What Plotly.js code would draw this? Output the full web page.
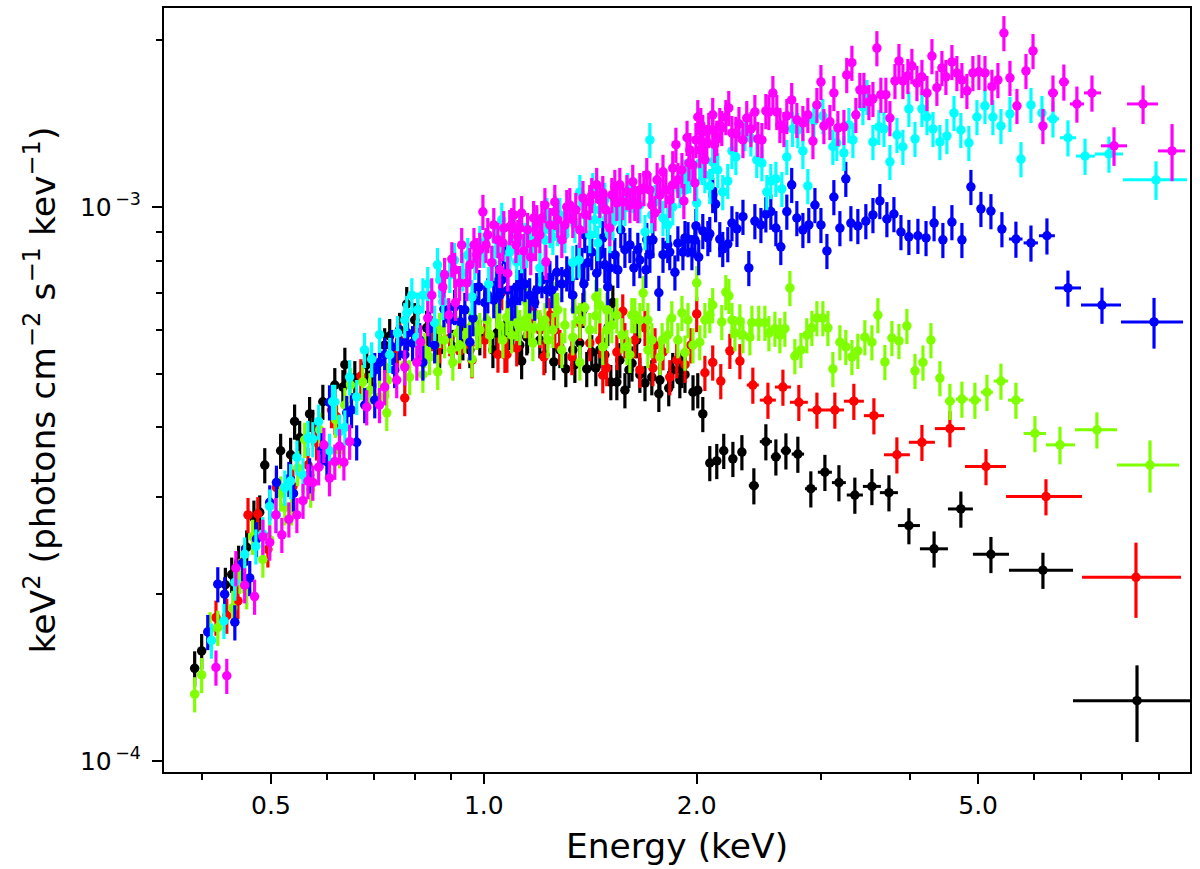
<!DOCTYPE html>
<html>
<head>
<meta charset="utf-8">
<script src="https://cdn.plot.ly/plotly-3.0.1.min.js"></script>
<style>html,body{margin:0;padding:0;background:#fff}#chart{width:1200px;height:869px}</style>
</head>
<body>
<div id="chart"></div>
<script>
// Energy in keV; flux in units of 1e-3 keV^2 photons cm^-2 s^-1 keV^-1
const bulkFracErr = 0.073;

const blackE = [.39,.399,.431,.44,.45,.462,.473,.482,.49,.516,.533,.54,.549,.567,.573,.592,.632,.636,.657,.683,.694,.736,.778,.806,.83,.858,.904,.934,.987,1.03,1.043,1.071,1.088,1.099,1.131,1.15,1.153,1.2,1.256,1.306,1.336,1.367,1.381,1.398,1.421,1.44,1.483,1.497,1.512,1.522,1.542,1.583,1.604,1.62,1.645,1.69,1.728,1.768,1.826,1.85,1.893,1.906,1.976,2.007,2.04,2.087,2.135,2.184,2.25,2.317];
const blackF = [.147,.158,.208,.217,.228,.243,.275,.281,.342,.363,.357,.41,.383,.423,.401,.445,.473,.519,.491,.519,.498,.585,.668,.652,.605,.58,.559,.57,.582,.552,.592,.592,.595,.592,.527,.582,.587,.575,.525,.51,.552,.568,.652,.51,.547,.512,.541,.605,.483,.672,.483,.467,.508,.522,.575,.481,.493,.46,.471,.508,.487,.508,.463,.467,.423,.345,.348,.363,.351,.361];
const blackDenseE = [.6155,.724,.76,.7985,.866,.9555,1.124,1.22,1.281,1.345,1.459,1.557,1.662,1.774,1.925];
const blackDenseF = [.477,.563,.6,.625,.552,.552,.563,.541,.552,.519,.552,.529,.498,.487,.498];
const blackTailE = [2.409,2.505,2.588,2.674,2.78,2.9,3.036,3.178,3.347,3.538,3.74,3.991,4.332,4.727,5.213,6.175,8.388];
const blackTailF = [.314,.377,.354,.363,.358,.31,.332,.318,.302,.313,.305,.266,.2415,.285,.236,.221,.1285];
const blackTailLo = [2.37,2.456,2.546,2.63,2.725,2.845,2.967,3.106,3.26,3.436,3.631,3.851,4.137,4.532,4.916,5.528,6.81];
const blackTailHi = [2.448,2.555,2.63,2.718,2.837,2.958,3.106,3.25,3.436,3.643,3.851,4.137,4.532,4.916,5.528,6.81,10.0];
const blackTailErr = [.075,.075,.075,.075,.075,.075,.075,.075,.075,.075,.075,.075,.075,.075,.075,.075,.158];

const redE = [.418,.433,.449,.464,.479,.495,.509,.537,.564,.58,.609,.616,.619,.67,.755,.773,.804,.844,.895,.924,.962,1.047,1.06,1.071,1.078,1.113,1.15,1.173,1.2,1.216,1.24,1.281,1.332,1.367,1.412,1.473,1.492,1.542,1.572,1.583,1.69,1.734,1.792,1.832,1.874,1.962,2.0,2.054,2.107,2.163,2.228,2.302];
const redF = [.1815,.183,.1945,.278,.279,.241,.3115,.313,.342,.376,.43,.418,.418,.495,.5455,.452,.6,.592,.58,.55,.529,.5415,.702,.541,.5415,.556,.625,.648,.6,.536,.638,.559,.536,.618,.568,.497,.512,.547,.648,.575,.605,.512,.547,.493,.529,.563,.641,.502,.524,.485,.55,.527];
const redDenseE = [.76,.866,.9555,1.003,1.26,1.459,1.635,1.746,1.662,1.925];
const redDenseF = [.575,.563,.563,.575,.6,.575,.575,.563,.508,.519];
const redTailE = [2.401,2.522,2.648,2.789,2.958,3.136,3.336,3.561,3.838,4.164,4.561,5.13,6.236,8.36];
const redTailF = [.477,.448,.473,.444,.43,.43,.446,.42,.357,.376,.398,.34,.3,.2145];
const redTailLo = [2.354,2.456,2.58,2.709,2.872,3.046,3.23,3.447,3.68,3.991,4.344,4.79,5.475,7.013];
const redTailHi = [2.448,2.588,2.718,2.872,3.046,3.23,3.447,3.68,4.004,4.344,4.79,5.475,7.013,9.68];
const redTailErr = [.075,.075,.075,.075,.075,.075,.075,.075,.075,.075,.075,.075,.075,.155];

const greenE = [.39,.399,.41,.4205,.4415,.452,.462,.471,.487,.498,.516,.523,.535,.5455,.569,.6,.617,.625,.648,.674,.712,.729,.731,.7855,.82,.838,.8605,.866,.9,.904,.918,.9555,.962,.977,1.01,1.043,1.064,1.0775,1.088,1.113,1.124,1.15,1.161,1.173,1.2,1.252,1.26,1.289,1.336,1.367,1.367,1.389,1.44,1.44,1.473,1.492,1.492,1.542,1.593,1.609,1.635,1.662,1.68,1.706,1.706,1.774,1.787,1.844,1.906,1.925,1.944,2.0,2.02,2.054,2.087,2.107,2.17,2.199,2.221,2.243,2.265,2.302,2.325,2.378,2.394,2.448,2.497,2.53,2.58,2.622,2.665,2.709,2.753,2.808,2.862,2.91,2.958,3.016,3.066,3.116,3.188,3.25,3.315,3.38,3.458,3.538,3.608,3.691,3.776,3.864,3.965,4.071,4.178,4.288,4.415];
const greenF = [.132,.143,.173,.174,.189,.216,.2025,.254,.231,.251,.304,.287,.287,.338,.309,.349,.413,.364,.477,.483,.454,.425,.487,.493,.498,.536,.504,.6,.552,.524,.592,.605,.531,.595,.625,.652,.575,.632,.644,.618,.607,.672,.607,.568,.607,.6,.682,.552,.582,.625,.524,.658,.688,.636,.559,.652,.6,.638,.559,.541,.638,.625,.699,.625,.552,.536,.575,.63,.644,.546,.625,.729,.57,.625,.638,.665,.62,.702,.691,.625,.592,.622,.587,.582,.618,.618,.618,.592,.603,.587,.603,.714,.538,.552,.587,.605,.63,.63,.605,.51,.57,.559,.536,.55,.582,.57,.638,.525,.58,.573,.61,.506,.524,.575,.491];
const greenDenseE = [.558,.586,.636,.69,.748,.773,.825,.852,.88,.924,.94,.987,1.02,1.053,1.095,1.143,1.18,1.22,1.232,1.272,1.302,1.345,1.412,1.459,1.517,1.567,1.619,1.728,1.82,1.881,1.976];
const greenDenseF = [.38,.396,.439,.467,.508,.519,.552,.563,.575,.563,.587,.6,.587,.612,.587,.625,.638,.625,.575,.652,.612,.652,.6,.665,.612,.587,.638,.575,.587,.575,.563];
const greenTailE = [4.561,4.743,4.948,5.146,5.386,5.655,6.016,6.527,7.362,8.751];
const greenTailF = [.446,.45,.448,.463,.485,.448,.39,.372,.396,.342];
const greenTailLo = [4.488,4.65,4.852,5.046,5.26,5.51,5.798,6.236,6.855,7.86];
const greenTailHi = [4.636,4.837,5.046,5.247,5.51,5.798,6.236,6.855,7.86,9.62];
const greenTailErr = [.075,.075,.075,.075,.075,.075,.075,.078,.075,.108];

const blueE = [.407,.4205,.43,.4445,.456,.4666,.477,.498,.509,.53,.538,.567,.59,.6,.605,.64,.65,.661,.6785,.701,.712,.741,.748,.76,.78,.793,.82,.838,.878,.909,.927,.9555,.965,.984,1.003,1.033,1.043,1.06,1.074,1.081,1.095,1.113,1.124,1.131,1.18,1.188,1.228,1.24,1.268,1.31,1.336,1.354,1.385,1.389,1.403,1.421,1.444,1.473,1.483,1.497,1.532,1.562,1.583,1.63,1.662,1.695,1.7,1.734,1.768,1.792,1.832,1.863,1.881,1.912,1.944,1.969,1.995,2.013,2.04,2.087,2.107,2.127,2.156,2.177,2.213,2.243,2.28,2.325,2.37,2.417,2.465,2.505,2.546,2.588,2.63,2.682,2.725,2.771,2.826,2.881,2.939,2.997,3.056,3.126,3.188,3.25,3.304,3.38,3.469,3.55,3.631,3.715,3.801,3.889,3.991,4.11,4.22,4.332,4.458,4.591,4.743,4.884,5.046,5.213,5.403];
const blueF = [.171,.2085,.2,.178,.2275,.214,.2515,.293,.318,.323,.304,.328,.364,.347,.444,.425,.43,.376,.439,.448,.524,.559,.508,.57,.592,.568,.524,.603,.654,.66,.62,.57,.63,.717,.672,.679,.732,.738,.802,.708,.672,.717,.717,.729,.672,.708,.708,.744,.762,.759,.693,.796,.726,.89,.793,.829,.759,.879,.786,.717,.819,.909,.837,.776,.802,.77,.872,.872,.7,.82,.829,.762,.86,.829,.875,.829,.924,.812,.905,.894,1.051,1.012,.875,.84,.857,.935,.913,.96,.776,.943,.928,.97,.981,.916,.847,.981,1.096,.955,.909,.928,1.008,.928,.833,1.042,.916,1.124,.935,.924,.943,.967,1.025,.951,.971,.901,.883,.887,.879,.935,.872,.939,.872,1.087,.992,.983,.912];
const blueDenseE = [.701,.724,.773,.8115,.852,.895,.94,.971,1.013,1.053,1.106,1.143,1.161,1.208,1.248,1.289,1.323,1.376,1.459,1.507,1.547,1.609,1.651,1.717,1.82,1.925,1.988,2.074];
const blueDenseF = [.508,.541,.541,.575,.563,.625,.652,.679,.693,.693,.679,.726,.693,.738,.708,.726,.738,.786,.82,.776,.77,.854,.837,.82,.854,.879,.872,.879];
const blueTailE = [5.655,5.939,6.256,6.699,7.484,8.866];
const blueTailF = [.875,.861,.887,.714,.665,.62];
const blueTailLo = [5.528,5.798,6.095,6.42,6.99,7.962];
const blueTailHi = [5.778,6.075,6.42,6.99,7.962,9.745];
const blueTailErr = [.075,.075,.075,.075,.075,.105];

const cyanE = [.412,.429,.4445,.459,.476,.487,.498,.509,.523,.533,.544,.555,.564,.573,.584,.605,.611,.6155,.625,.636,.646,.661,.694,.736,.755,.778,.804,.806,.82,.852,.86,.875,.895,.934,.962,.971,.987,1.016,1.03,1.06,1.081,1.088,1.113,1.131,1.143,1.161,1.173,1.2,1.24,1.252,1.272,1.314,1.336,1.363,1.367,1.412,1.426,1.449,1.459,1.492,1.522,1.532,1.583,1.624,1.69,1.717,1.746,1.792,1.85,1.925,1.938,1.988,2.0,2.02,2.034,2.087,2.107,2.142,2.177,2.213,2.243,2.272,2.34,2.386,2.432,2.473,2.513,2.546,2.588,2.639,2.682,2.733,2.78,2.826,2.872,2.929,3.016,3.116,3.156,3.23,3.283,3.326,3.436,3.481,3.55,3.619,3.68,3.752,3.839,3.914,3.991,4.071,4.164,4.233,4.317,4.415,4.517,4.622,4.727,4.852,4.981,5.113,5.247,5.386,5.546,5.749,5.939,6.155];
const cyanF = [.165,.179,.21,.236,.244,.257,.288,.278,.3115,.32,.353,.328,.383,.381,.41,.363,.445,.445,.393,.4,.493,.454,.531,.541,.592,.644,.582,.652,.693,.618,.786,.674,.754,.759,.688,.796,.861,.726,.793,.948,.808,.829,.796,.819,.872,.864,.883,.776,.909,.883,.916,.97,.793,.802,1.064,.89,1.073,.861,.988,.955,.939,1.03,.996,1.051,.901,1.321,1.021,.955,1.0,1.134,1.138,1.105,1.017,1.2,1.181,1.091,1.206,1.166,1.064,1.114,1.262,1.231,1.36,1.33,1.216,1.2,1.064,1.114,1.124,1.078,1.231,1.383,1.377,1.262,1.091,1.43,1.46,1.284,1.305,1.252,1.406,1.321,1.515,1.58,1.31,1.395,1.383,1.206,1.349,1.284,1.503,1.327,1.503,1.453,1.383,1.31,1.343,1.478,1.377,1.305,1.453,1.522,1.453,1.4,1.472,1.22,1.528,1.478];
const cyanDenseE = [.678,.712,.773,.791,.833,.866,.909,.949,1.0,1.04,1.053,1.106,1.15,1.188,1.22,1.228,1.281,1.302,1.345,1.389,1.435,1.483,1.507,1.557,1.598,1.662,1.728,1.774,1.82,1.893,1.956,2.054];
const cyanDenseF = [.552,.588,.625,.693,.726,.738,.802,.819,.837,.872,.82,.89,.837,.928,.872,.967,.967,.89,.928,.967,.948,1.03,.89,.967,1.073,1.008,.967,1.051,.928,1.073,1.142,1.142];
const cyanTailE = [6.38,6.699,7.082,7.656,8.924];
const cyanTailF = [1.442,1.333,1.235,1.246,1.119];
const cyanTailLo = [6.256,6.527,6.878,7.316,8.014];
const cyanTailHi = [6.506,6.878,7.316,8.014,9.87];
const cyanTailErr = [.075,.075,.075,.075,.08];

const magentaE = [.418,.433,.446,.459,.474,.487,.498,.508,.518,.53,.544,.555,.564,.573,.584,.594,.605,.6155,.625,.634,.646,.683,.712,.724,.753,.773,.804,.814,.833,.844,.875,.892,.901,.912,.924,.946,.977,.997,1.026,1.053,1.064,1.081,1.088,1.095,1.117,1.131,1.139,1.165,1.184,1.188,1.208,1.224,1.26,1.26,1.289,1.31,1.336,1.367,1.381,1.412,1.444,1.473,1.507,1.532,1.542,1.572,1.624,1.635,1.662,1.7,1.746,1.758,1.792,1.85,1.85,1.869,1.918,1.938,1.95,1.976,1.988,2.007,2.027,2.04,2.04,2.067,2.107,2.107,2.135,2.17,2.199,2.22,2.243,2.272,2.295,2.325,2.354,2.386,2.417,2.44,2.473,2.505,2.53,2.563,2.596,2.622,2.657,2.682,2.725,2.771,2.826,2.872,2.92,2.958,2.997,3.026,3.086,3.126,3.167,3.23,3.26,3.315,3.358,3.402,3.447,3.504,3.55,3.596,3.643,3.703,3.752,3.814,3.864,3.914,3.978,4.03,4.097,4.164,4.233,4.302,4.372,4.444,4.502,4.591,4.666,4.743,4.821,4.916,5.013,5.113,5.23,5.333,5.438,5.546,5.674,5.843,5.979,6.175];
const magentaF = [.1475,.1425,.223,.2076,.198,.254,.248,.278,.256,.273,.278,.295,.32,.318,.339,.372,.324,.347,.37,.346,.377,.435,.439,.473,.487,.514,.524,.57,.63,.693,.717,.638,.805,.672,.729,.729,.819,.98,.793,.77,.861,.759,.92,.928,.883,.975,.833,.812,.861,.939,.955,.796,1.021,.98,.872,1.0,.948,.909,1.038,1.021,1.096,1.06,.916,1.087,1.017,1.021,1.11,1.017,1.073,1.142,.975,1.119,1.157,1.175,1.096,1.295,1.025,1.333,1.2,1.19,1.105,1.453,1.406,1.366,1.305,1.31,1.466,1.377,1.333,1.389,1.453,1.509,1.36,1.355,1.412,1.321,1.447,1.383,1.484,1.327,1.321,1.49,1.484,1.606,1.484,1.406,1.383,1.46,1.56,1.436,1.418,1.466,1.315,1.528,1.681,1.4,1.424,1.606,1.389,1.395,1.731,1.821,1.466,1.627,1.627,1.547,1.567,1.935,1.594,1.594,1.447,1.688,1.834,1.688,1.724,1.797,1.674,1.717,1.606,1.872,1.641,1.782,1.717,1.827,1.745,1.695,1.62,1.745,1.753,1.745,1.648,1.695,2.06,1.71,1.522,1.76,1.912,1.4];
const magentaDenseE = [.88,.9094,.9304,.9555,.9683,.987,1.007,1.013,1.033,1.047,1.067,1.103,1.11,1.124,1.153,1.176,1.2,1.22,1.24,1.272,1.302,1.323,1.349,1.394,1.421,1.459,1.487,1.517,1.557,1.593,1.609,1.651,1.684,1.717,1.728,1.774,1.809,1.832,1.881,1.906,1.956,1.995,2.02,2.054,2.08,2.12,2.156];
const magentaDenseF = [.754,.77,.854,.786,.854,.837,.854,.89,.928,.872,.916,.967,.854,.916,.909,.955,.89,1.008,.928,.948,.928,1.008,.988,.967,1.051,1.03,.988,1.051,1.096,1.064,1.008,1.008,1.082,1.073,1.008,1.051,1.073,1.03,1.119,1.166,1.267,1.321,1.267,1.216,1.377,1.295,1.406];
const magentaTailE = [6.38,6.61,6.897,7.244,7.783,8.555,9.402];
const magentaTailF = [1.606,1.681,1.534,1.606,1.289,1.534,1.262];
const magentaTailLo = [6.277,6.506,6.743,7.058,7.46,8.12,8.98];
const magentaTailHi = [6.484,6.72,7.058,7.46,8.12,8.98,9.81];
const magentaTailErr = [.075,.075,.075,.075,.08,.08,.118];

const xTickVals = [0.5, 1, 2, 5];
const xTickText = ['0.5', '1.0', '2.0', '5.0'];
const xMinorVals = [0.4, 0.6, 0.7, 0.8, 0.9, 3, 4, 6, 7, 8, 9];
const yTickVals = [1e-4, 1e-3];
const yTickText = ['10<sup>\u2009\u22124</sup>', '10<sup>\u2009\u22123</sup>'];
const yMinorVals = [2e-4, 3e-4, 4e-4, 5e-4, 6e-4, 7e-4, 8e-4, 9e-4, 2e-3];

const UNIT = 1e-3;
function makeTrace(color, E0, F0, dE, dF, tE, tF, tLo, tHi, tErr) {
  const E = E0.concat(dE), F = F0.concat(dF);
  const x = E.concat(tE);
  const y = F.concat(tF).map(v => v * UNIT);
  const yerr = F.map(v => v * UNIT * bulkFracErr).concat(tF.map((v, i) => v * UNIT * tErr[i]));
  const xplus = E.map(() => 0).concat(tE.map((v, i) => tHi[i] - v));
  const xminus = E.map(() => 0).concat(tE.map((v, i) => v - tLo[i]));
  return {
    type: 'scatter', mode: 'markers', x, y,
    marker: {color, size: 9.5, line: {width: 0}},
    error_y: {type: 'data', array: yerr, visible: true, color, thickness: 3.2, width: 0},
    error_x: {type: 'data', symmetric: false, array: xplus, arrayminus: xminus, visible: true, color, thickness: 3, width: 0},
    cliponaxis: true, hoverinfo: 'skip'
  };
}

const traces = [
  makeTrace('#000000', blackE, blackF, blackDenseE, blackDenseF, blackTailE, blackTailF, blackTailLo, blackTailHi, blackTailErr),
  makeTrace('#ff0000', redE, redF, redDenseE, redDenseF, redTailE, redTailF, redTailLo, redTailHi, redTailErr),
  makeTrace('#7fff00', greenE, greenF, greenDenseE, greenDenseF, greenTailE, greenTailF, greenTailLo, greenTailHi, greenTailErr),
  makeTrace('#0000ff', blueE, blueF, blueDenseE, blueDenseF, blueTailE, blueTailF, blueTailLo, blueTailHi, blueTailErr),
  makeTrace('#00ffff', cyanE, cyanF, cyanDenseE, cyanDenseF, cyanTailE, cyanTailF, cyanTailLo, cyanTailHi, cyanTailErr),
  makeTrace('#ff00ff', magentaE, magentaF, magentaDenseE, magentaDenseF, magentaTailE, magentaTailF, magentaTailLo, magentaTailHi, magentaTailErr)
];

const font = 'DejaVu Sans, sans-serif';
const layout = {
  width: 1200, height: 869,
  margin: {l: 164, r: 10, t: 8, b: 97, pad: 0},
  paper_bgcolor: '#fff', plot_bgcolor: '#fff',
  showlegend: false,
  font: {family: font, color: '#000'},
  xaxis: {
    type: 'log', range: [-0.4523, 0.9986],
    tickmode: 'array', tickvals: xTickVals, ticktext: xTickText,
    ticks: 'outside', ticklen: 10, tickwidth: 2, tickcolor: '#000',
    tickfont: {family: font, size: 25, color: '#000'},
    minor: {tickmode: 'array', tickvals: xMinorVals, ticks: 'outside', ticklen: 6, tickwidth: 2, tickcolor: '#000', showgrid: false},
    showgrid: false, zeroline: false, showline: true, linecolor: '#000', linewidth: 2, mirror: true,
    title: {text: 'Energy (keV)', font: {family: font, size: 34.5, color: '#000'}, standoff: 15}
  },
  yaxis: {
    type: 'log', range: [-4.0199, -2.641],
    tickmode: 'array', tickvals: yTickVals, ticktext: yTickText,
    ticks: 'outside', ticklen: 10, tickwidth: 2, tickcolor: '#000', ticklabelstandoff: 6,
    tickfont: {family: font, size: 25, color: '#000'},
    minor: {tickmode: 'array', tickvals: yMinorVals, ticks: 'outside', ticklen: 6, tickwidth: 2, tickcolor: '#000', showgrid: false},
    showgrid: false, zeroline: false, showline: true, linecolor: '#000', linewidth: 2, mirror: true,
    title: {text: 'keV<sup>2</sup> (photons cm<sup>\u22122</sup> s<sup>\u22121</sup> kev<sup>\u22121</sup>)', font: {family: font, size: 34.5, color: '#000'}, standoff: 14}
  }
};
Plotly.newPlot('chart', traces, layout, {displayModeBar: false, staticPlot: true});
</script>
</body>
</html>
